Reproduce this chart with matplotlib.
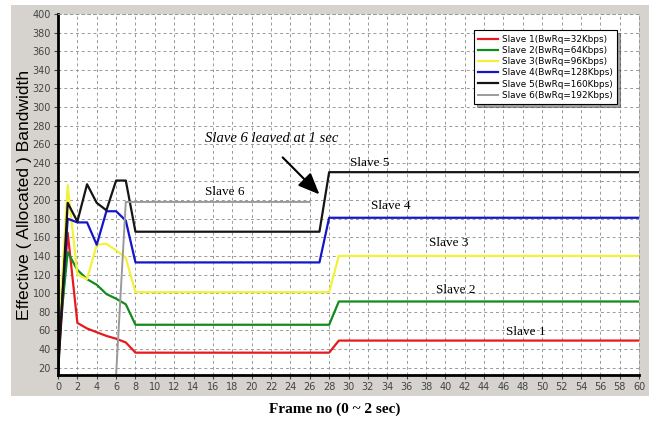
import numpy as np
import matplotlib.pyplot as plt
from matplotlib.patches import Rectangle

# frame numbers and allocated bandwidth
frames_a = [0, 1, 2, 3, 4, 5, 6, 7, 8, 28, 29, 60]
slave1 = [20, 165, 68, 62, 58, 54, 51, 47, 36, 36, 49, 49]
slave2 = [40, 144, 125, 115, 109, 99, 94, 88, 66, 66, 91, 91]
slave3 = [40, 216, 120, 115, 152, 153, 146, 138, 101, 101, 140, 140]

frames_b = [0, 1, 2, 3, 4, 5, 6, 7, 8, 27, 28, 60]
slave4 = [25, 180, 176, 176, 152, 188, 188, 178, 133, 133, 181, 181]
slave5 = [12, 197, 177, 217, 197, 189, 221, 221, 166, 166, 230, 230]

frames_6 = [6, 7, 26]
slave6 = [12, 198, 198]

labels = ['Slave 1(BwRq=32Kbps)', 'Slave 2(BwRq=64Kbps)', 'Slave 3(BwRq=96Kbps)',
          'Slave 4(BwRq=128Kbps)', 'Slave 5(BwRq=160Kbps)', 'Slave 6(BwRq=192Kbps)']
colors = ['#e8191e', '#138a1c', '#f2f23a', '#1515c8', '#151515', '#9a9a9a']

fig = plt.figure(figsize=(6.49, 4.23), dpi=100)
fig.patches.append(Rectangle((11/649, 1-396/423), 638/649, 391/423,
                             transform=fig.transFigure, facecolor='#d6d3ce',
                             edgecolor='none', zorder=-5))
ax = fig.add_axes([58/649, 1-375/423, 581/649, 361/423])
ax.set_zorder(2)
ax.set_facecolor('white')

ax.plot(frames_a, slave1, color=colors[0], lw=1.6, label=labels[0])
ax.plot(frames_a, slave2, color=colors[1], lw=1.6, label=labels[1])
ax.plot(frames_a, slave3, color=colors[2], lw=1.6, label=labels[2])
ax.plot(frames_b, slave4, color=colors[3], lw=1.6, label=labels[3])
ax.plot(frames_b, slave5, color=colors[4], lw=1.6, label=labels[4])
ax.plot(frames_6, slave6, color=colors[5], lw=1.4, label=labels[5])

ax.set_xlim(0, 60)
ax.set_ylim(12, 400)
ax.set_xticks(np.arange(0, 61, 2))
ax.set_yticks(np.arange(20, 401, 20))
ax.tick_params(labelsize=7, colors='#444444', length=3, pad=2)
ax.grid(True, linestyle=(0, (3, 3)), color='#999999', lw=0.7)
for s in ['left', 'bottom']:
    ax.spines[s].set_linewidth(2)
    ax.spines[s].set_color('black')
for s in ['top', 'right']:
    ax.spines[s].set_linestyle((0, (3, 3)))
    ax.spines[s].set_color('#999999')
    ax.spines[s].set_linewidth(0.7)

leg = ax.legend(loc='upper right', bbox_to_anchor=(0.962, 0.955), borderaxespad=0,
                fontsize=6.4, frameon=True, fancybox=False, shadow=True,
                handlelength=2.2, labelspacing=0.25, borderpad=0.5, handletextpad=0.4)
leg.get_frame().set_edgecolor('black')
leg.get_frame().set_linewidth(0.8)

serif = 'Liberation Serif'
ax.text(15.2, 262, 'Slave 6 leaved at 1 sec', family=serif, style='italic', fontsize=10.5)
ax.annotate('', xy=(27.2, 204), xytext=(23.0, 248),
            arrowprops=dict(arrowstyle='-|>,head_length=1.3,head_width=0.55',
                            color='black', lw=1.5))
ax.text(30.2, 237, 'Slave 5', family=serif, fontsize=9.5)
ax.text(15.2, 206, 'Slave 6', family=serif, fontsize=9.5)
ax.text(32.3, 190, 'Slave 4', family=serif, fontsize=9.5)
ax.text(38.3, 151, 'Slave 3', family=serif, fontsize=9.5)
ax.text(39.0, 100, 'Slave 2', family=serif, fontsize=9.5)
ax.text(46.3, 55, 'Slave 1', family=serif, fontsize=9.5)

fig.text(25/649, 1-195/423, 'Effective ( Allocated ) Bandwidth', rotation=90,
         ha='center', va='center', fontsize=12.6, family='Liberation Sans')
fig.text(335/649, 1-409/423, 'Frame no (0 ~ 2 sec)', ha='center', va='center',
         fontsize=11, family=serif, weight='bold')

fig.savefig('out.png', dpi=100)
